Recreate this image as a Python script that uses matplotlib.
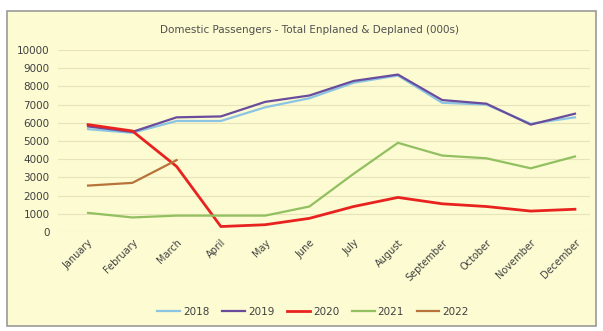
import matplotlib.pyplot as plt
from matplotlib.patches import Rectangle

months = ["January", "February", "March", "April", "May", "June", "July",
          "August", "September", "October", "November", "December"]
y2018 = [5650, 5450, 6100, 6100, 6850, 7350, 8200, 8600, 7100, 7000, 5950, 6300]
y2019 = [5800, 5500, 6300, 6350, 7150, 7500, 8300, 8650, 7250, 7050, 5900, 6500]
y2020 = [5900, 5550, 3600, 300, 400, 750, 1400, 1900, 1550, 1400, 1150, 1250]
y2021 = [1050, 800, 900, 900, 900, 1400, 3200, 4900, 4200, 4050, 3500, 4150]
y2022 = [2550, 2700, 3950]

series = [("2018", y2018, "#8cc4e4"), ("2019", y2019, "#6a4c9c"),
          ("2020", y2020, "#e8231f"), ("2021", y2021, "#92c060"),
          ("2022", y2022, "#b8733a")]

bg = "#fcfbd2"
fig = plt.figure(figsize=(6.03, 3.31), dpi=100)
fig.patches.append(Rectangle((7 / 603, 1 - 326 / 331), 589 / 603, 315 / 331,
                             transform=fig.transFigure, facecolor=bg,
                             edgecolor="#9a9a9a", linewidth=1.2, zorder=-5))
ax = fig.add_axes([58 / 603, 1 - 232 / 331, 532 / 603, 182 / 331])
ax.set_facecolor("none")

x = list(range(len(months)))
for name, vals, col in series:
    lw = 2.0 if name == "2020" else 1.6
    ax.plot(x[:len(vals)], vals, color=col, lw=lw, label=name)

ax.set_ylim(0, 10000)
ax.set_xlim(-0.68, 11.34)
ax.set_yticks(range(0, 10001, 1000))
ax.set_xticks(x)
ax.set_xticklabels(months, rotation=45, ha="right", rotation_mode="anchor",
                   fontsize=7, color="#404040")
ax.tick_params(axis="y", labelsize=7.5, labelcolor="#404040", length=0, pad=6)
ax.tick_params(axis="x", length=0, pad=4)
ax.grid(axis="y", color="#e6e4b8", lw=0.8)
ax.set_axisbelow(True)
for s in ax.spines.values():
    s.set_visible(False)

fig.text(310 / 603, 1 - 30 / 331, "Domestic Passengers - Total Enplaned & Deplaned (000s)",
         ha="center", va="center", fontsize=7.5, color="#505050")
fig.legend(loc="center", bbox_to_anchor=(313 / 603, 1 - 312 / 331), ncol=5,
           frameon=False, fontsize=7.5, handlelength=2.2, columnspacing=1.2,
           handletextpad=0.3, labelcolor="#404040")

fig.savefig("out.png", dpi=100)
